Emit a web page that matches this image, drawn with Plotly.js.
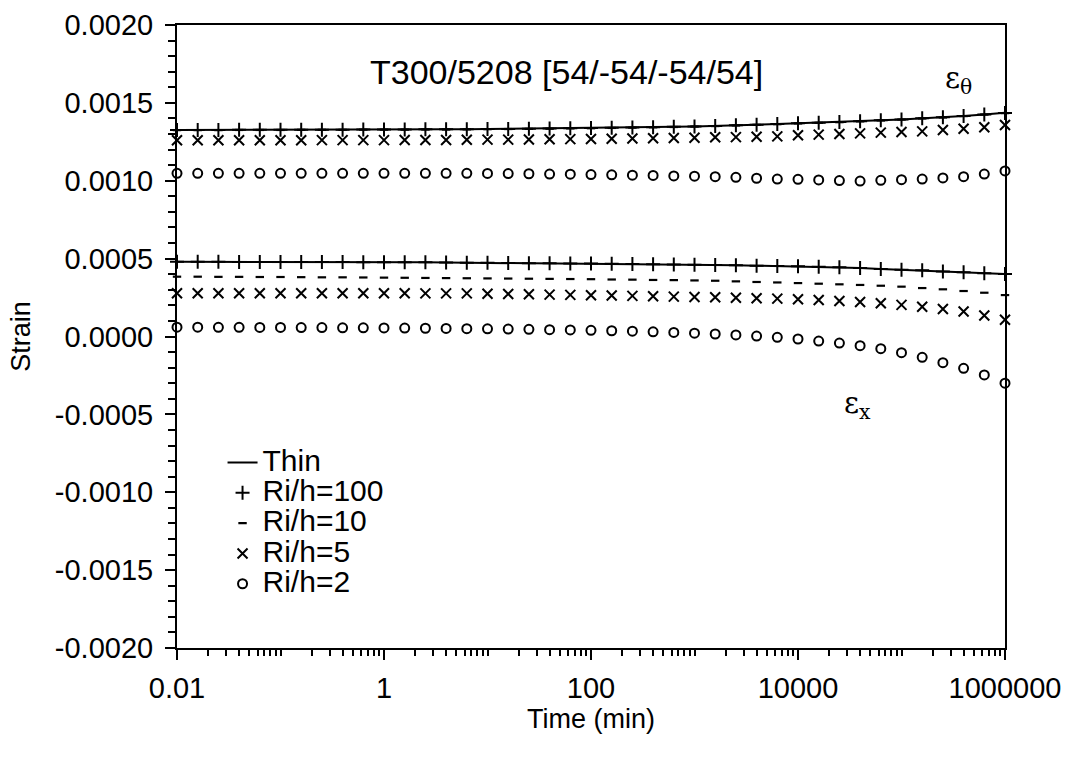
<!DOCTYPE html>
<html>
<head>
<meta charset="utf-8">
<script src="https://cdn.plot.ly/plotly-3.0.1.min.js"></script>
<style>
html,body{margin:0;padding:0;background:#fff;}
#chart{width:1068px;height:758px;}
.legendtext{font-size:30px !important;}
</style>
</head>
<body>
<div id="chart"></div>
<script>
// Time (min), sampled 5 points per decade
const timeMin = [0.01, 0.01585, 0.02512, 0.03981, 0.0631, 0.1, 0.1585, 0.2512, 0.3981, 0.631,
  1, 1.585, 2.512, 3.981, 6.31, 10, 15.85, 25.12, 39.81, 63.1,
  100, 158.5, 251.2, 398.1, 631, 1000, 1585, 2512, 3981, 6310,
  10000, 15850, 25120, 39810, 63100, 100000, 158500, 251200, 398100, 631000, 1000000];

// Hoop strain (epsilon theta)
const thetaThin = [0.001326,0.001326,0.001326,0.001327,0.001327,0.001327,0.001328,0.001328,0.001328,0.001329,
  0.001329,0.001329,0.001330,0.001330,0.001331,0.001332,0.001333,0.001334,0.001335,0.001337,
  0.001338,0.001340,0.001342,0.001344,0.001346,0.001349,0.001352,0.001356,0.001360,0.001364,
  0.001369,0.001373,0.001377,0.001382,0.001388,0.001394,0.001401,0.001407,0.001416,0.001426,0.001437];
const theta100 = [0.001326,0.001326,0.001326,0.001327,0.001327,0.001327,0.001328,0.001328,0.001328,0.001329,
  0.001329,0.001329,0.001330,0.001330,0.001331,0.001332,0.001333,0.001334,0.001335,0.001337,
  0.001338,0.001340,0.001342,0.001344,0.001346,0.001349,0.001352,0.001356,0.001360,0.001364,
  0.001369,0.001373,0.001377,0.001382,0.001388,0.001394,0.001401,0.001407,0.001416,0.001426,0.001435];
const theta10 = [0.001325,0.001325,0.001325,0.001326,0.001326,0.001326,0.001327,0.001327,0.001327,0.001328,
  0.001328,0.001328,0.001329,0.001329,0.001330,0.001331,0.001332,0.001333,0.001334,0.001336,
  0.001337,0.001339,0.001341,0.001343,0.001345,0.001348,0.001351,0.001355,0.001359,0.001363,
  0.001368,0.001372,0.001376,0.001381,0.001387,0.001393,0.001400,0.001406,0.001415,0.001425,0.001434];
const theta5 = [0.001260,0.001260,0.001260,0.001260,0.001260,0.001260,0.001260,0.001261,0.001261,0.001261,
  0.001261,0.001262,0.001262,0.001262,0.001263,0.001264,0.001264,0.001265,0.001266,0.001267,
  0.001268,0.001270,0.001271,0.001273,0.001274,0.001276,0.001279,0.001280,0.001283,0.001285,
  0.001292,0.001296,0.001300,0.001304,0.001309,0.001313,0.001317,0.001326,0.001334,0.001343,0.001358];
const theta2 = [0.001048,0.001048,0.001048,0.001048,0.001048,0.001048,0.001048,0.001048,0.001048,0.001048,
  0.001048,0.001048,0.001048,0.001048,0.001048,0.001047,0.001046,0.001045,0.001043,0.001042,
  0.001040,0.001038,0.001036,0.001034,0.001031,0.001029,0.001026,0.001022,0.001016,0.001011,
  0.001009,0.001005,0.001001,0.000998,0.001003,0.001007,0.001011,0.001018,0.001026,0.001043,0.001063];

// Axial strain (epsilon x)
const xThin = [0.000480,0.000480,0.000480,0.000479,0.000479,0.000479,0.000478,0.000478,0.000478,0.000477,
  0.000477,0.000476,0.000476,0.000475,0.000474,0.000473,0.000472,0.000471,0.000470,0.000469,
  0.000468,0.000467,0.000466,0.000464,0.000462,0.000461,0.000459,0.000457,0.000455,0.000453,
  0.000451,0.000448,0.000444,0.000440,0.000434,0.000429,0.000424,0.000418,0.000412,0.000406,0.000402];
const x100 = [0.000480,0.000480,0.000480,0.000479,0.000479,0.000479,0.000478,0.000478,0.000478,0.000477,
  0.000477,0.000476,0.000476,0.000475,0.000474,0.000473,0.000472,0.000471,0.000470,0.000469,
  0.000468,0.000467,0.000466,0.000464,0.000462,0.000461,0.000459,0.000457,0.000455,0.000453,
  0.000451,0.000448,0.000444,0.000440,0.000433,0.000429,0.000425,0.000418,0.000412,0.000406,0.000401];
const x10 = [0.000384,0.000384,0.000383,0.000383,0.000382,0.000382,0.000381,0.000380,0.000380,0.000379,
  0.000378,0.000377,0.000376,0.000375,0.000374,0.000373,0.000372,0.000371,0.000370,0.000369,
  0.000368,0.000366,0.000365,0.000363,0.000362,0.000360,0.000358,0.000354,0.000350,0.000347,
  0.000343,0.000339,0.000335,0.000331,0.000326,0.000320,0.000311,0.000303,0.000292,0.000281,0.000266];
const x5 = [0.000278,0.000278,0.000278,0.000278,0.000278,0.000278,0.000278,0.000278,0.000278,0.000278,
  0.000278,0.000278,0.000277,0.000277,0.000277,0.000275,0.000273,0.000271,0.000269,0.000267,
  0.000265,0.000263,0.000261,0.000258,0.000256,0.000254,0.000252,0.000249,0.000246,0.000243,
  0.000239,0.000234,0.000228,0.000221,0.000213,0.000203,0.000191,0.000177,0.000160,0.000135,0.000108];
const x2 = [0.000060,0.000060,0.000059,0.000059,0.000058,0.000058,0.000057,0.000057,0.000056,0.000056,
  0.000055,0.000054,0.000053,0.000052,0.000050,0.000049,0.000048,0.000046,0.000044,0.000042,
  0.000040,0.000037,0.000034,0.000030,0.000026,0.000021,0.000016,0.000010,0.000003,-0.000005,
  -0.000016,-0.000029,-0.000042,-0.000059,-0.000078,-0.000104,-0.000134,-0.000168,-0.000204,-0.000247,-0.000300];

const seriesNames = ['Thin', 'Ri/h=100', 'Ri/h=10', 'Ri/h=5', 'Ri/h=2'];
const xTickVals = [0.01, 1, 100, 10000, 1000000];
const xTickText = ['0.01', '1', '100', '10000', '1000000'];
const yTickVals = [-0.002, -0.0015, -0.001, -0.0005, 0, 0.0005, 0.001, 0.0015, 0.002];
const chartTitle = 'T300/5208 [54/-54/-54/54]';

const FONT = 'Liberation Sans, Arial, Helvetica, sans-serif';

// minor tick positions
const xMinor = [];
for (let e = -2; e < 6; e++) {
  for (let m = 1; m < 10; m++) {
    const v = m * Math.pow(10, e);
    if (m === 1 && e % 2 === 0) continue;
    xMinor.push(v);
  }
}
const yMinor = [];
for (let i = -20; i <= 20; i++) { if (i % 5 !== 0) yMinor.push(i / 10000); }

const mk = (sym, size, w) => ({symbol: sym, size: size, color: '#000', line: {color: '#000', width: w}});
const specs = [
  {mode: 'lines', line: {color: '#000', width: 2}},
  {mode: 'markers', marker: mk('cross-thin-open', 10, 2)},
  {mode: 'markers', marker: mk('line-ew-open', 6, 2.2)},
  {mode: 'markers', marker: mk('x-thin-open', 10, 2)},
  {mode: 'markers', marker: mk('circle-open', 9, 2)}
];
const thetaData = [thetaThin, theta100, theta10, theta5, theta2];
const xData = [xThin, x100, x10, x5, x2];

const traces = [];
specs.forEach((s, i) => {
  traces.push(Object.assign({type: 'scatter', name: seriesNames[i], x: timeMin, y: thetaData[i], legendgroup: 'g' + i, showlegend: true, cliponaxis: false}, s));
  traces.push(Object.assign({type: 'scatter', name: seriesNames[i], x: timeMin, y: xData[i], legendgroup: 'g' + i, showlegend: false, cliponaxis: false}, s));
});

const layout = {
  width: 1068, height: 758,
  margin: {l: 177, r: 63, t: 25, b: 110},
  paper_bgcolor: '#fff', plot_bgcolor: '#fff',
  font: {family: FONT, color: '#000', size: 26},
  showlegend: true,
  legend: {x: 0.055, y: 0.2, xanchor: 'left', yanchor: 'middle', bgcolor: 'rgba(0,0,0,0)',
    font: {family: FONT, size: 21, color: '#000'}, tracegroupgap: 0},
  xaxis: {
    type: 'log', range: [-2, 6], tickmode: 'array', tickvals: xTickVals, ticktext: xTickText,
    ticks: 'outside', ticklen: 10, tickwidth: 2, tickcolor: '#000', ticklabelstandoff: 3,
    showline: true, linewidth: 2, linecolor: '#000', mirror: true,
    showgrid: false, zeroline: false,
    tickfont: {family: FONT, size: 29, color: '#000'},
    minor: {tickmode: 'array', tickvals: xMinor, ticks: 'outside', ticklen: 6, tickwidth: 2, tickcolor: '#000', showgrid: false},
    title: {text: 'Time (min)', font: {family: FONT, size: 27, color: '#000'}, standoff: 5}
  },
  yaxis: {
    range: [-0.002, 0.002], tickmode: 'array', tickvals: yTickVals,
    ticktext: yTickVals.map(v => v.toFixed(4)),
    ticks: 'outside', ticklen: 10, tickwidth: 2, tickcolor: '#000', ticklabelstandoff: 6,
    showline: true, linewidth: 2, linecolor: '#000', mirror: true,
    showgrid: false, zeroline: false,
    tickfont: {family: FONT, size: 29, color: '#000'},
    minor: {tickmode: 'array', tickvals: yMinor, ticks: 'outside', ticklen: 7, tickwidth: 2, tickcolor: '#000', showgrid: false},
    title: {text: 'Strain', font: {family: FONT, size: 27, color: '#000'}, standoff: 16}
  },
  annotations: [
    {text: chartTitle, xref: 'paper', yref: 'paper', x: 0.47, y: 0.925, showarrow: false,
      font: {family: FONT, size: 34, color: '#000'}, xanchor: 'center', yanchor: 'middle'},
    {text: 'ε<sub>θ</sub>', xref: 'paper', yref: 'paper', x: 0.944, y: 0.912, showarrow: false,
      font: {family: 'DejaVu Serif, serif', size: 29, color: '#000'}, xanchor: 'center', yanchor: 'middle'},
    {text: 'ε<sub>x</sub>', xref: 'paper', yref: 'paper', x: 0.822, y: 0.39, showarrow: false,
      font: {family: 'DejaVu Serif, serif', size: 29, color: '#000'}, xanchor: 'center', yanchor: 'middle'}
  ]
};

Plotly.newPlot('chart', traces, layout, {displayModeBar: false, staticPlot: true});
</script>
</body>
</html>
